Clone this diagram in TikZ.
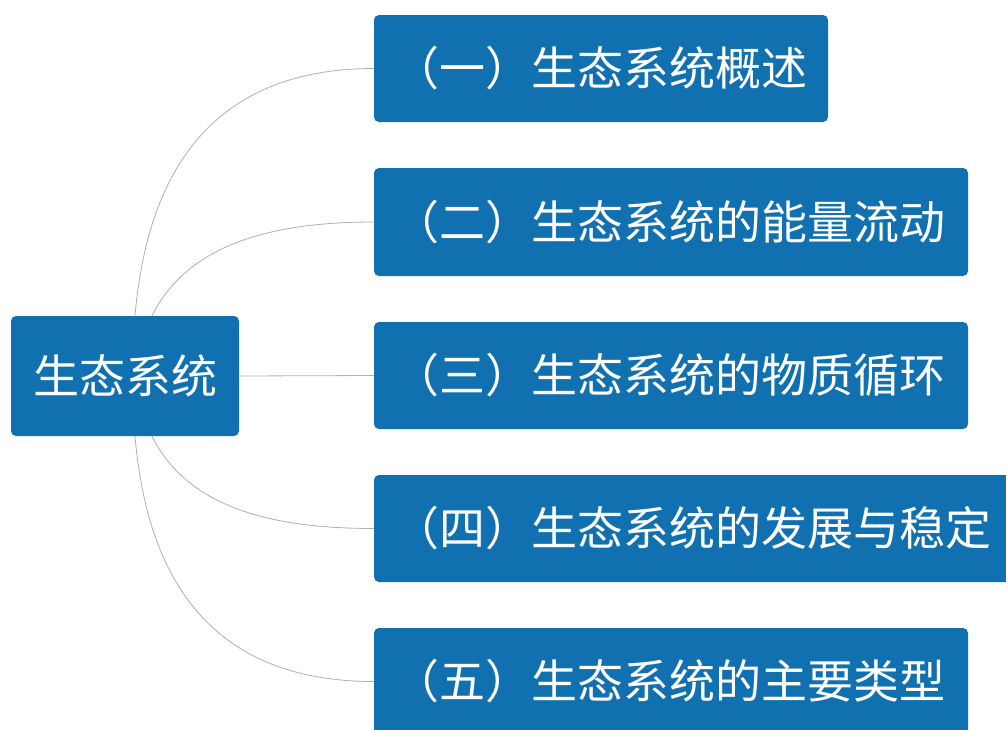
\documentclass[tikz,border=0pt]{standalone}
\usepackage{fontspec}
\newfontfamily\cjk{Noto Sans CJK SC}
\definecolor{boxblue}{HTML}{1070B0}
\definecolor{linegray}{HTML}{B0B0B0}
\begin{document}
\begin{tikzpicture}[x=1pt,y=-1pt,
  topic/.style={rectangle, rounded corners=5pt, fill=boxblue, text=white,
    inner xsep=19pt, inner ysep=0pt, align=left, font=\cjk\fontsize{46}{50}\selectfont},
  link/.style={draw=linegray, line width=0.8pt}]
\useasboundingbox (0,0) rectangle (1006,729);
\clip (0,0) rectangle (1006,729);
\fill[white] (0,0) rectangle (1006,729);
\node[topic, align=center, text width=190pt, minimum height=120pt] (root) at (125,376) {生态系统};
\node[topic, text width=416pt, minimum height=107pt] (b1) at (601,68.5) {（一）生态系统概述};
\node[topic, text width=556pt, minimum height=108pt] (b2) at (671,222) {（二）生态系统的能量流动};
\node[topic, text width=556pt, minimum height=107pt] (b3) at (671,375.5) {（三）生态系统的物质循环};
\node[topic, text width=628pt, minimum height=107pt] (b4) at (707,528.5) {（四）生态系统的发展与稳定};
\node[topic, text width=556pt, minimum height=107pt] (b5) at (671,681.5) {（五）生态系统的主要类型};
\draw[link] ([xshift=10pt]root.north) .. controls +(15,-176) and +(-134,0) .. (b1.west);
\draw[link] ([xshift=27pt]root.north) .. controls +(33,-66) and +(-114,0) .. (b2.west);
\draw[link] (root.east) -- (b3.west);
\draw[link] ([xshift=27pt]root.south) .. controls +(33,66) and +(-114,0) .. (b4.west);
\draw[link] ([xshift=10pt]root.south) .. controls +(15,176) and +(-134,0) .. (b5.west);
\end{tikzpicture}
\end{document}
